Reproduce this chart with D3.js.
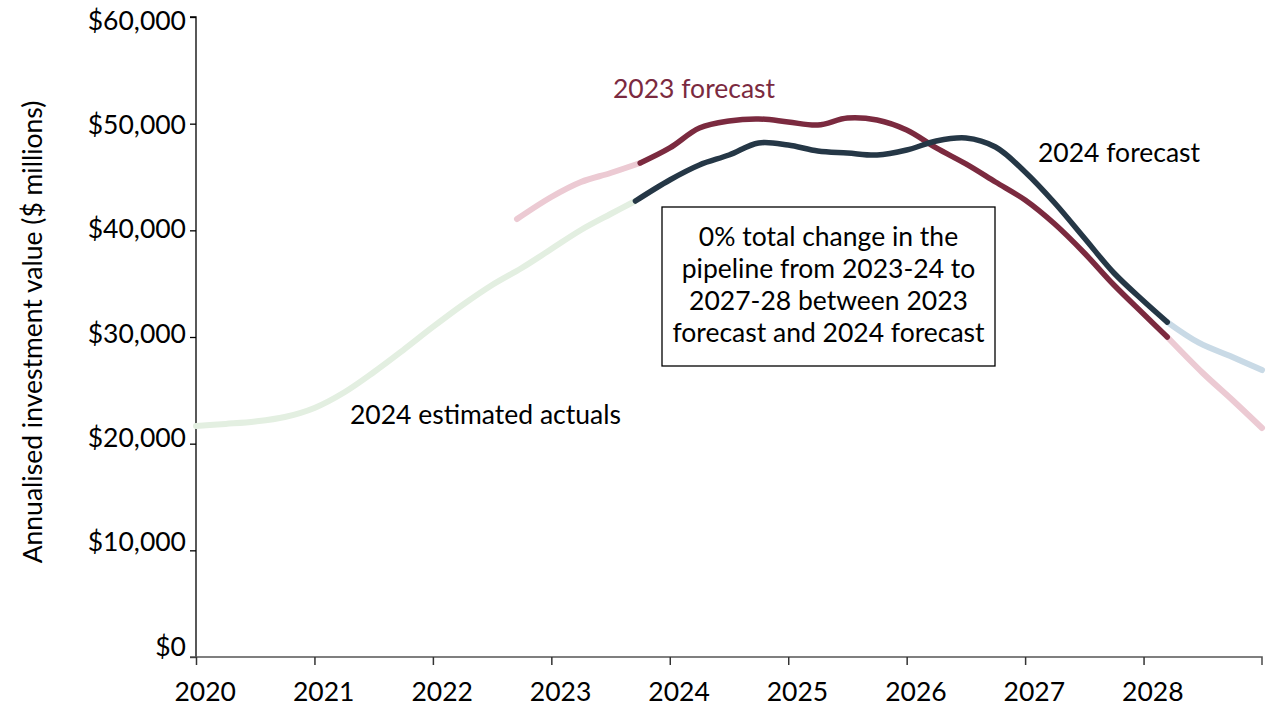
<!DOCTYPE html>
<html>
<head>
<meta charset="utf-8">
<script src="https://cdn.jsdelivr.net/npm/d3@7/dist/d3.min.js"></script>
<style>
  html, body { margin: 0; padding: 0; background: #fff; }
  svg { display: block; font-family: Lato, "Open Sans", sans-serif; }
</style>
</head>
<body>
<svg id="chart" width="1266" height="706"></svg>
<script>
// ---- data (years as fractional x, values in $ millions) ----
const actualsYears = [2020.0, 2020.25, 2020.5, 2020.75, 2021.0, 2021.25, 2021.5, 2021.75, 2022.0, 2022.25, 2022.5, 2022.75, 2023.0, 2023.25, 2023.5, 2023.71];
const actualsValues = [21650, 21850, 22080, 22500, 23350, 24800, 26700, 28780, 30940, 33000, 34875, 36470, 38250, 40030, 41530, 42750];

const f23PastYears = [2022.71, 2023.0, 2023.25, 2023.5, 2023.75];
const f23PastValues = [41060, 43125, 44530, 45375, 46310];

const f23Years = [2023.75, 2024.0, 2024.25, 2024.5, 2024.75, 2025.0, 2025.25, 2025.5, 2025.75, 2026.0, 2026.25, 2026.5, 2026.75, 2027.0, 2027.25, 2027.5, 2027.75, 2028.0, 2028.2];
const f23Values = [46310, 47720, 49590, 50250, 50440, 50160, 49870, 50530, 50340, 49400, 47720, 46220, 44530, 42840, 40590, 37875, 34875, 32156, 30000];

const f23TailYears = [2028.2, 2028.5, 2028.75, 2029.0];
const f23TailValues = [30000, 26625, 24094, 21470];

const f24Years = [2023.71, 2024.0, 2024.25, 2024.5, 2024.75, 2025.0, 2025.25, 2025.5, 2025.75, 2026.0, 2026.25, 2026.5, 2026.75, 2027.0, 2027.25, 2027.5, 2027.75, 2028.0, 2028.2];
const f24Values = [42750, 44720, 46125, 47060, 48190, 48000, 47440, 47250, 47060, 47530, 48375, 48660, 47810, 45470, 42560, 39280, 36000, 33375, 31400];

const f24TailYears = [2028.2, 2028.47, 2028.75, 2029.0];
const f24TailValues = [31400, 29440, 28125, 26900];

const xTicks = [2020, 2021, 2022, 2023, 2024, 2025, 2026, 2027, 2028];
const yTicks = [0, 10000, 20000, 30000, 40000, 50000, 60000];

const boxLines = ["0% total change in the", "pipeline from 2023-24 to", "2027-28 between 2023", "forecast and 2024 forecast"];

// ---- layout ----
const svg = d3.select("#chart");
const x = d3.scaleLinear().domain([2020, 2029]).range([196, 1262]);
const y = d3.scaleLinear().domain([0, 60000]).range([657, 17]);

// y axis
const yAxis = svg.append("g").attr("transform", "translate(196,0)")
  .call(d3.axisLeft(y).tickValues(yTicks).tickSize(6).tickPadding(4)
    .tickFormat(d => "$" + d3.format(",")(d)));
yAxis.select(".domain").attr("stroke", "#000").attr("stroke-width", 1.3).attr("d", "M-6,17H0V657");
yAxis.selectAll(".tick line").attr("stroke", "#000").attr("stroke-width", 1.3);
yAxis.selectAll(".tick text")
  .attr("fill", "#000").attr("font-size", 26.5).attr("font-family", "Lato, sans-serif")
  .attr("dy", d => (-11 + d / 10000 * 2.35 + 9) + "px");

// x axis
const xAxis = svg.append("g").attr("transform", "translate(0,657)")
  .call(d3.axisBottom(x).tickValues(xTicks).tickSize(8).tickPadding(12).tickFormat(d3.format("d")));
xAxis.select(".domain").attr("stroke", "#555").attr("stroke-width", 1.6).attr("d", "M190,0H1262V8");
xAxis.selectAll(".tick line").attr("stroke", "#333").attr("stroke-width", 1.5);
xAxis.selectAll(".tick text")
  .attr("fill", "#000").attr("font-size", 26.5).attr("font-family", "Lato, sans-serif")
  .attr("text-anchor", "start").attr("x", -22).attr("dy", "0.9em");

// y title
svg.append("text")
  .attr("transform", "translate(42,332) rotate(-90)")
  .attr("text-anchor", "middle").attr("font-size", 26.5).attr("fill", "#000")
  .text("Annualised investment value ($ millions)");

// lines
const line = d3.line().x(d => x(d[0])).y(d => y(d[1])).curve(d3.curveCatmullRom.alpha(0.5));
function drawSeries(years, values, color, width) {
  svg.append("path")
    .datum(years.map((yr, i) => [yr, values[i]]))
    .attr("fill", "none").attr("stroke", color).attr("stroke-width", width)
    .attr("stroke-linecap", "round").attr("stroke-linejoin", "round")
    .attr("d", line);
}
drawSeries(actualsYears, actualsValues, "#e3efe1", 6);
drawSeries(f23PastYears, f23PastValues, "#eccad3", 6);
drawSeries(f23TailYears, f23TailValues, "#eccad3", 6);
drawSeries(f24TailYears, f24TailValues, "#c9dae6", 6);
drawSeries(f23Years, f23Values, "#7b2a3f", 5.5);
drawSeries(f24Years, f24Values, "#253746", 5.5);

// annotations
svg.append("text").attr("x", 613).attr("y", 98).attr("font-size", 26.5).attr("fill", "#7b2a3f").text("2023 forecast");
svg.append("text").attr("x", 1038).attr("y", 162).attr("font-size", 26.5).attr("fill", "#000").text("2024 forecast");
svg.append("text").attr("x", 350).attr("y", 424).attr("font-size", 26.5).attr("fill", "#000").text("2024 estimated actuals");

// box
svg.append("rect").attr("x", 662).attr("y", 207).attr("width", 333).attr("height", 159)
  .attr("fill", "#fff").attr("stroke", "#000").attr("stroke-width", 1.3);
svg.append("text").attr("text-anchor", "middle").attr("font-size", 26.5).attr("fill", "#000")
  .selectAll("tspan").data(boxLines).join("tspan")
  .attr("x", 828.5).attr("y", (d, i) => 246 + i * 32).text(d => d);
</script>
</body>
</html>
